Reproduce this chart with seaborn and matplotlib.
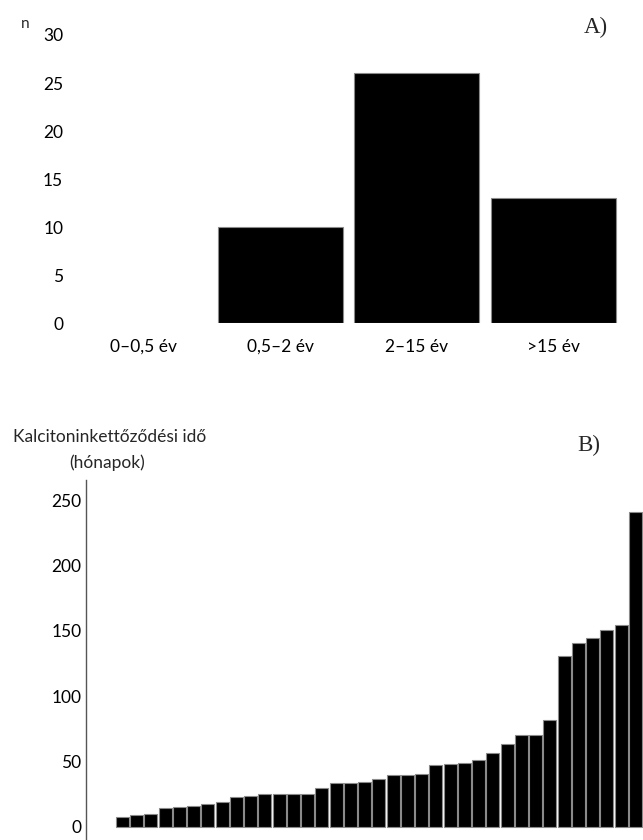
import matplotlib
matplotlib.use("Agg")
import matplotlib.pyplot as plt
import seaborn as sns
import pandas as pd

# A) betegek szama eletkor szerint
age_groups = ["0–0,5 év", "0,5–2 év", "2–15 év", ">15 év"]
patient_counts = [0, 10, 26, 13]

# B) kalcitonin kettozodesi ido (honapok), novekvo sorrendben
doubling_times = [7.4, 9, 10, 14.3, 15.1, 16.1, 17.4, 18.9, 23, 23.7,
                  24.7, 24.7, 24.7, 25.3, 29.6, 33.2, 33.2, 34.2, 36.5, 39.6,
                  39.6, 40.6, 47, 48, 48.8, 51.1, 56.4, 63.3, 70.2, 70.2,
                  81.7, 130.7, 140.5, 144.5, 150.6, 154.7, 240.7]

sns.set_theme(style="white")
plt.rcParams["font.family"] = ["Lato", "DejaVu Sans"]

fig = plt.figure(figsize=(6.43, 8.4), dpi=100)

# --- panel A ---
ax_a = fig.add_axes([0.1178, 0.6149, 0.849, 0.3435])
sns.barplot(x=age_groups, y=patient_counts, color="black", saturation=1,
            width=0.916, edgecolor="#8a8a8a", linewidth=0.8, ax=ax_a)
for p in ax_a.patches:
    if p.get_height() == 0:
        p.set_linewidth(0)
ax_a.set_xlim(-0.5, 3.5)
ax_a.set_ylim(0, 30)
ax_a.set_yticks(range(0, 31, 5))
ax_a.tick_params(axis="y", length=0, pad=9, labelsize=12.5, colors="black")
ax_a.tick_params(axis="x", length=0, pad=11, labelsize=12.5, colors="black")
sns.despine(ax=ax_a, left=True, bottom=True)

fig.text(25 / 643, 1 - 24 / 840, "n", ha="center", va="center", fontsize=11)
fig.text(596 / 643, 1 - 27 / 840, "A)", ha="center", va="center",
         fontsize=16.5, family="Liberation Serif")

# --- panel B ---
ax_b = fig.add_axes([0.1333, 0.0, 0.8667, 0.4286])
df = pd.DataFrame({"eset": range(1, len(doubling_times) + 1),
                   "ido": doubling_times})
sns.barplot(data=df, x="eset", y="ido", color="black", saturation=1,
            width=0.91, edgecolor="#8a8a8a", linewidth=0.8, ax=ax_b)
ax_b.set_xlim(-2.58, 36.53)
ax_b.set_ylim(-10.2, 265.5)
ax_b.set_yticks(range(0, 251, 50))
ax_b.set_xticks([])
ax_b.set_xlabel("")
ax_b.set_ylabel("")
ax_b.tick_params(axis="y", length=0, pad=3, labelsize=12.5, colors="black")
sns.despine(ax=ax_b, bottom=True)
ax_b.spines["left"].set_color("#555555")
ax_b.spines["left"].set_linewidth(1)

fig.text(110 / 643, 1 - 437 / 840, "Kalcitoninkettőződési idő", ha="center",
         va="center", fontsize=12.5)
fig.text(107 / 643, 1 - 463 / 840, "(hónapok)", ha="center", va="center",
         fontsize=12.5)
fig.text(589 / 643, 1 - 445 / 840, "B)", ha="center", va="center",
         fontsize=16.5, family="Liberation Serif")

fig.savefig("out.png", dpi=100)
